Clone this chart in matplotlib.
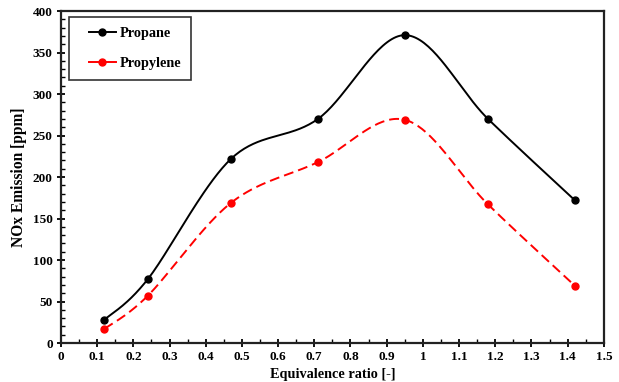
"""
NOx emission vs equivalence ratio for propane and propylene flames.
Excel-style smoothed lines with markers at the measured points.
"""

import numpy as np
import matplotlib
matplotlib.use("Agg")
import matplotlib.pyplot as plt
from matplotlib.legend_handler import HandlerLine2D
from matplotlib.ticker import MultipleLocator

# ----------------------------- DATA -----------------------------
phi           = [0.12, 0.24, 0.47, 0.71, 0.95, 1.18, 1.42]
nox_propane   = [28, 77, 222, 270, 371, 270, 172]
nox_propylene = [17, 57, 169, 218, 269, 167, 69]
# ----------------------------------------------------------------


def smooth(x, y, n=40):
    """Catmull-Rom / Bezier smoothing similar to Excel's 'smoothed line'."""
    p = np.column_stack([x, y]).astype(float)
    ext = np.vstack([p[0], p, p[-1]])
    out = []
    t = np.linspace(0, 1, n)[:, None]
    for i in range(1, len(ext) - 2):
        p0, p1, p2, p3 = ext[i - 1], ext[i], ext[i + 1], ext[i + 2]
        c1 = p1 + (p2 - p0) / 6.0
        c2 = p2 - (p3 - p1) / 6.0
        seg = ((1 - t) ** 3) * p1 + 3 * ((1 - t) ** 2) * t * c1 \
            + 3 * (1 - t) * t ** 2 * c2 + t ** 3 * p2
        out.append(seg if i == 1 else seg[1:])
    s = np.vstack(out)
    return s[:, 0], s[:, 1]


plt.rcParams["font.family"] = ["Liberation Serif", "DejaVu Serif"]
plt.rcParams["font.weight"] = "bold"

fig = plt.figure(figsize=(6.19, 3.82), dpi=100)
ax = fig.add_axes([0.0985, 0.102, 0.877, 0.869])

xs, ys = smooth(phi, nox_propane)
ax.plot(xs, ys, color="black", lw=1.4)
ax.plot(phi, nox_propane, "o", color="black", ms=5)

xs, ys = smooth(phi, nox_propylene)
ax.plot(xs, ys, color="#ff0000", lw=1.4, dashes=(5.1, 2.6))
ax.plot(phi, nox_propylene, "o", color="#ff0000", ms=5)

# legend proxies (solid line + marker, as in the Excel legend)
p1, = ax.plot([], [], "-o", color="black", lw=1.4, ms=5, label="Propane")
p2, = ax.plot([], [], "-o", color="#ff0000", lw=1.4, ms=5, label="Propylene")
leg = ax.legend([p1, p2], ["Propane", "Propylene"], loc="upper left",
                bbox_to_anchor=(0.015, 0.982),
                frameon=True, fancybox=False, edgecolor="black",
                prop={"weight": "bold", "size": 10.3}, handlelength=2.6,
                handletextpad=0.28, labelspacing=1.25, borderpad=0.66,
                borderaxespad=0.0,
                handler_map={p1: HandlerLine2D(xpad=0.72),
                             p2: HandlerLine2D(xpad=0.72)})
leg.get_frame().set_linewidth(1.2)

ax.set_xlim(0, 1.5)
ax.set_ylim(0, 400)
ax.xaxis.set_minor_locator(MultipleLocator(0.05))
ax.yaxis.set_major_locator(MultipleLocator(50))
ax.yaxis.set_minor_locator(MultipleLocator(10))
ax.set_xticks(np.arange(0, 1.51, 0.1))
ax.set_xticklabels(["0", "0.1", "0.2", "0.3", "0.4", "0.5", "0.6", "0.7",
                    "0.8", "0.9", "1", "1.1", "1.2", "1.3", "1.4", "1.5"])

ax.tick_params(which="major", direction="inout", length=6, width=1.3,
               labelsize=9.5, pad=3)
ax.tick_params(which="minor", direction="in", length=3, width=1.0)
for side in ["left", "bottom", "right", "top"]:
    ax.spines[side].set_linewidth(1.6)
    ax.spines[side].set_color("#222222")

ax.set_xlabel("Equivalence ratio [-]", fontsize=10.3, fontweight="bold",
              labelpad=3)
ax.set_ylabel("NOx Emission [ppm]", fontsize=11.2, fontweight="bold",
              labelpad=4)

fig.savefig("out.png", dpi=100)
